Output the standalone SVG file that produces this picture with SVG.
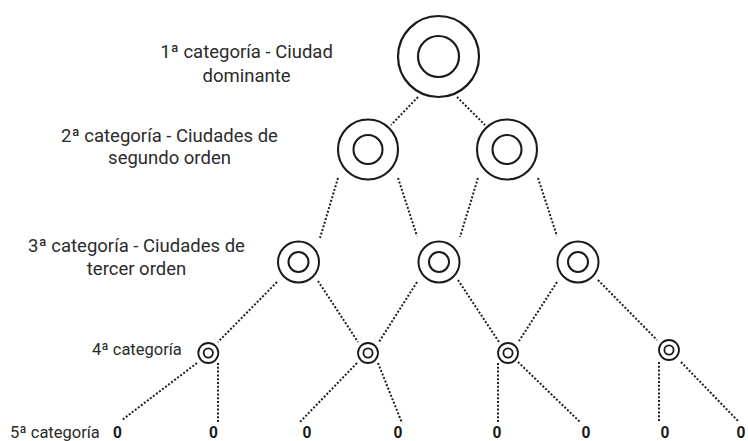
<svg xmlns="http://www.w3.org/2000/svg" width="748" height="441" viewBox="0 0 748 441">
<style>
.bg{fill:#ffffff}
.ring{fill:none;stroke:#1a1a1a}
.r1{stroke-width:2.2}
.r2{stroke-width:2.1}
.r3{stroke-width:2}
.r4{stroke-width:1.8}
.lbl{font-family:Roboto,"Liberation Sans",sans-serif;fill:#2b2b2b;font-size:18.5px}
.lbs{font-family:Roboto,"Liberation Sans",sans-serif;fill:#2b2b2b;font-size:16.5px}
.zero{font-family:"Liberation Sans",Arial,sans-serif;font-weight:bold;fill:#1a1a1a;font-size:16px;text-anchor:middle}
.dot{fill:none;stroke:#1f1f1f;stroke-width:2;stroke-dasharray:2 1.8}
</style>
<rect class="bg" x="0" y="0" width="748" height="441"/>
<g id="connectors">
  <line class="dot" x1="418" y1="97" x2="391" y2="125"/>
  <line class="dot" x1="457" y1="97" x2="485" y2="125"/>
  <line class="dot" x1="338" y1="178" x2="320" y2="238"/>
  <line class="dot" x1="398" y1="178" x2="417" y2="236"/>
  <line class="dot" x1="478" y1="178" x2="460" y2="237"/>
  <line class="dot" x1="538" y1="178" x2="557" y2="236"/>
  <line class="dot" x1="277" y1="282" x2="218" y2="342"/>
  <line class="dot" x1="318" y1="281" x2="358" y2="342"/>
  <line class="dot" x1="417" y1="282" x2="379" y2="342"/>
  <line class="dot" x1="458" y1="280" x2="499" y2="342"/>
  <line class="dot" x1="557" y1="282" x2="519" y2="341"/>
  <line class="dot" x1="598" y1="280" x2="657" y2="340"/>
  <line class="dot" x1="197" y1="363" x2="122" y2="420"/>
  <line class="dot" x1="218" y1="363" x2="218" y2="422"/>
  <line class="dot" x1="357" y1="363" x2="300" y2="422"/>
  <line class="dot" x1="378" y1="363" x2="402" y2="423"/>
  <line class="dot" x1="498" y1="363" x2="498" y2="422"/>
  <line class="dot" x1="518" y1="362" x2="580" y2="422"/>
  <line class="dot" x1="659" y1="362" x2="659" y2="422"/>
  <line class="dot" x1="681" y1="362" x2="738" y2="421"/>
</g>
<g id="n1">
  <circle class="ring r1" cx="438.5" cy="56.5" r="40.5"/>
  <circle class="ring r1" cx="438.5" cy="56.5" r="20.5"/>
</g>
<g id="n2a">
  <circle class="ring r2" cx="368" cy="149.5" r="30"/>
  <circle class="ring r2" cx="368" cy="149.5" r="14.5"/>
</g>
<g id="n2b">
  <circle class="ring r2" cx="507" cy="149.5" r="30"/>
  <circle class="ring r2" cx="507" cy="149.5" r="14.5"/>
</g>
<g id="n3a">
  <circle class="ring r3" cx="298.5" cy="262" r="20.5"/>
  <circle class="ring r3" cx="298.5" cy="262" r="10"/>
</g>
<g id="n3b">
  <circle class="ring r3" cx="439" cy="262" r="20.5"/>
  <circle class="ring r3" cx="439" cy="262" r="10"/>
</g>
<g id="n3c">
  <circle class="ring r3" cx="578" cy="262" r="20.5"/>
  <circle class="ring r3" cx="578" cy="262" r="10"/>
</g>
<g id="n4a">
  <circle class="ring r4" cx="208.3" cy="353" r="10"/>
  <circle class="ring r4" cx="208.3" cy="353" r="4.6"/>
</g>
<g id="n4b">
  <circle class="ring r4" cx="368" cy="353" r="10"/>
  <circle class="ring r4" cx="368" cy="353" r="4.6"/>
</g>
<g id="n4c">
  <circle class="ring r4" cx="508" cy="353" r="10"/>
  <circle class="ring r4" cx="508" cy="353" r="4.6"/>
</g>
<g id="n4d">
  <circle class="ring r4" cx="669" cy="350" r="10"/>
  <circle class="ring r4" cx="669" cy="350" r="4.6"/>
</g>
<g id="zeros">
  <text class="zero" x="117.5" y="438">0</text>
  <text class="zero" x="213.5" y="438">0</text>
  <text class="zero" x="307" y="438">0</text>
  <text class="zero" x="398" y="438">0</text>
  <text class="zero" x="497" y="438">0</text>
  <text class="zero" x="586" y="438">0</text>
  <text class="zero" x="665" y="438">0</text>
  <text class="zero" x="741" y="438">0</text>
</g>
<g id="labels">
  <text class="lbl" text-anchor="middle" x="246.5" y="58">1ª categoría - Ciudad</text>
  <text class="lbl" text-anchor="middle" x="246.5" y="82">dominante</text>
  <text class="lbl" text-anchor="middle" x="169.5" y="142">2ª categoría - Ciudades de</text>
  <text class="lbl" text-anchor="middle" x="169.5" y="164">segundo orden</text>
  <text class="lbl" text-anchor="middle" x="136.5" y="252">3ª categoría - Ciudades de</text>
  <text class="lbl" text-anchor="middle" x="136.5" y="275">tercer orden</text>
  <text class="lbs" x="92" y="355">4ª categoría</text>
  <text class="lbs" x="10" y="438">5ª categoría</text>
</g>
</svg>
